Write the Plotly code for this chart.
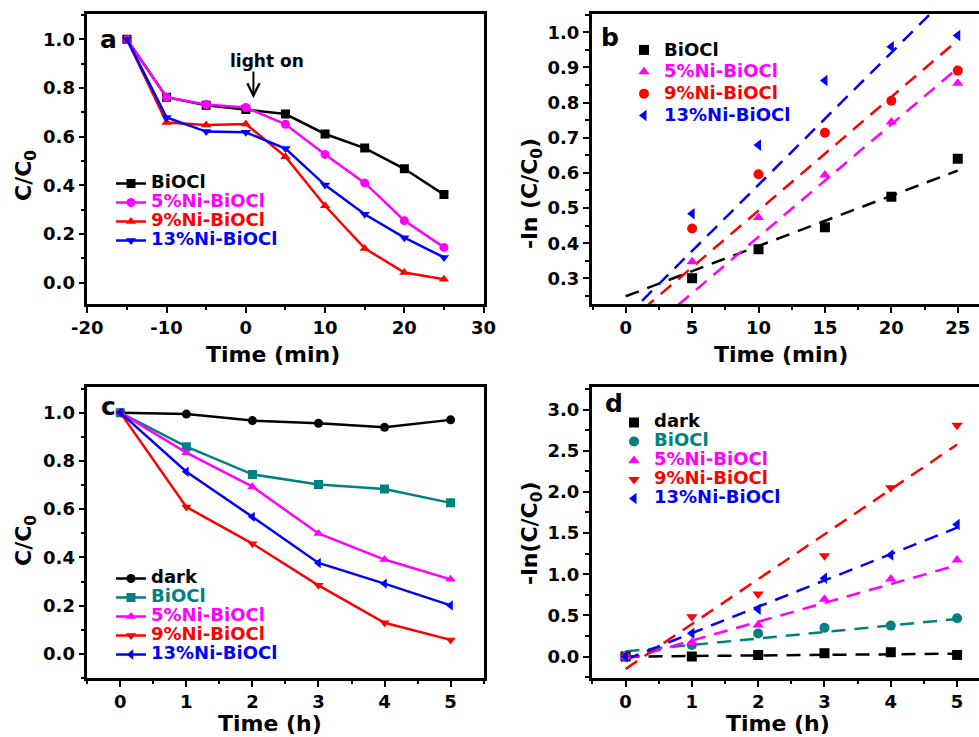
import plotly.graph_objects as go

W, H = 979, 737
FONT = "DejaVu Sans"

BLACK = "#000000"
MAGENTA = "#FF00FF"
RED = "#FF0000"
BLUE = "#0000FF"
TEAL = "#008080"

# ---- (a) C/C0 vs time, adsorption in the dark from -15 min, light on at 0 ----
t_a = [-15, -10, -5, 0, 5, 10, 15, 20, 25]
a_biocl = [1.0, 0.762, 0.729, 0.712, 0.693, 0.611, 0.553, 0.468, 0.362]
a_ni5 = [1.0, 0.762, 0.732, 0.720, 0.651, 0.527, 0.410, 0.255, 0.145]
a_ni9 = [1.0, 0.658, 0.648, 0.652, 0.518, 0.316, 0.141, 0.042, 0.014]
a_ni13 = [1.0, 0.679, 0.621, 0.618, 0.551, 0.401, 0.281, 0.185, 0.104]

# ---- (b) -ln(C/C0) vs time with linear fits ----
t_b = [5, 10, 15, 20, 25]
b_biocl = [0.300, 0.383, 0.445, 0.532, 0.640]
b_ni5 = [0.347, 0.473, 0.594, 0.745, 0.855]
b_ni9 = [0.442, 0.596, 0.714, 0.805, 0.891]
b_ni13 = [0.484, 0.679, 0.863, 0.959, 0.991]
b_fit_slope = [0.0143, 0.0320, 0.0323, 0.0376]
b_fit_icpt = [0.249, 0.098, 0.170, 0.190]
b_fit_span = [0, 25]

# ---- (c) C/C0 vs time (h) ----
t_c = [0, 1, 2, 3, 4, 5]
c_dark = [1.0, 0.994, 0.967, 0.956, 0.939, 0.970]
c_biocl = [1.0, 0.859, 0.744, 0.702, 0.683, 0.626]
c_ni5 = [1.0, 0.834, 0.693, 0.499, 0.391, 0.309]
c_ni9 = [1.0, 0.609, 0.457, 0.284, 0.129, 0.058]
c_ni13 = [1.0, 0.755, 0.568, 0.377, 0.291, 0.201]

# ---- (d) -ln(C/C0) vs time (h) with linear fits ----
t_d = [0, 1, 2, 3, 4, 5]
d_dark = [0.0, 0.0, 0.02, 0.041, 0.053, 0.02]
d_biocl = [0.0, 0.14, 0.28, 0.35, 0.376, 0.465]
d_ni5 = [0.0, 0.17, 0.384, 0.695, 0.942, 1.173]
d_ni9 = [0.0, 0.485, 0.76, 1.225, 2.05, 2.81]
d_ni13 = [0.0, 0.283, 0.574, 0.95, 1.233, 1.605]
d_fit_slope = [0.007, 0.079, 0.229, 0.545, 0.320]
d_fit_icpt = [0.0, 0.062, -0.035, -0.150, -0.035]
d_fit_span = [0, 5]

names_ab = ["BiOCl", "5%Ni-BiOCl", "9%Ni-BiOCl", "13%Ni-BiOCl"]
names_cd = ["dark", "BiOCl", "5%Ni-BiOCl", "9%Ni-BiOCl", "13%Ni-BiOCl"]

a_ticks = [-20, -10, 0, 10, 20, 30]
b_ticks = [0, 5, 10, 15, 20, 25]
cd_ticks = [0, 1, 2, 3, 4, 5]


def px(x):
    return x / W


def py(y):
    return 1 - y / H


def label(text, color, size=18):
    return f"<span style='color:{color};font-size:{size}px'>{text}</span>"


fig = go.Figure()

# panel a
a_series = [a_biocl, a_ni5, a_ni9, a_ni13]
a_cols = [BLACK, MAGENTA, RED, BLUE]
a_syms = ["square", "circle", "triangle-up", "triangle-down"]
for nm, ys, col, sym in zip(names_ab, a_series, a_cols, a_syms):
    fig.add_trace(go.Scatter(
        x=t_a, y=ys, mode="lines+markers", name=label(nm, col),
        line=dict(color=col, width=2.5),
        marker=dict(symbol=sym, size=9, color=col),
        xaxis="x", yaxis="y", legend="legend"))

# panel b
b_series = [b_biocl, b_ni5, b_ni9, b_ni13]
b_cols = [BLACK, MAGENTA, RED, BLUE]
b_syms = ["square", "triangle-up", "circle", "triangle-left"]
for i, (nm, ys, col, sym) in enumerate(zip(names_ab, b_series, b_cols, b_syms)):
    k, c0 = b_fit_slope[i], b_fit_icpt[i]
    fig.add_trace(go.Scatter(
        x=b_fit_span, y=[k * v + c0 for v in b_fit_span], mode="lines",
        line=dict(color=col, width=2.5, dash="14px,9px"),
        showlegend=False, hoverinfo="skip", xaxis="x2", yaxis="y2"))
for nm, ys, col, sym in zip(names_ab, b_series, b_cols, b_syms):
    fig.add_trace(go.Scatter(
        x=t_b, y=ys, mode="markers", name=label(nm, col),
        marker=dict(symbol=sym, size=10, color=col),
        xaxis="x2", yaxis="y2", legend="legend2"))

# panel c
c_series = [c_dark, c_biocl, c_ni5, c_ni9, c_ni13]
c_cols = [BLACK, TEAL, MAGENTA, RED, BLUE]
c_syms = ["circle", "square", "triangle-up", "triangle-down", "triangle-left"]
for nm, ys, col, sym in zip(names_cd, c_series, c_cols, c_syms):
    fig.add_trace(go.Scatter(
        x=t_c, y=ys, mode="lines+markers", name=label(nm, col),
        line=dict(color=col, width=2.5),
        marker=dict(symbol=sym, size=9, color=col),
        xaxis="x3", yaxis="y3", legend="legend3"))

# panel d
d_series = [d_dark, d_biocl, d_ni5, d_ni9, d_ni13]
d_cols = [BLACK, TEAL, MAGENTA, RED, BLUE]
d_syms = ["square", "circle", "triangle-up", "triangle-down", "triangle-left"]
for i, (nm, ys, col) in enumerate(zip(names_cd, d_series, d_cols)):
    k, c0 = d_fit_slope[i], d_fit_icpt[i]
    fig.add_trace(go.Scatter(
        x=d_fit_span, y=[k * v + c0 for v in d_fit_span], mode="lines",
        line=dict(color=col, width=2.5, dash="14px,9px"),
        showlegend=False, hoverinfo="skip", xaxis="x4", yaxis="y4"))
for nm, ys, col, sym in zip(names_cd, d_series, d_cols, d_syms):
    fig.add_trace(go.Scatter(
        x=t_d, y=ys, mode="markers", name=label(nm, col),
        marker=dict(symbol=sym, size=10, color=col),
        xaxis="x4", yaxis="y4", legend="legend4"))

tickfont = dict(family=FONT, size=18, color="black", weight="bold")


def axis(domain, rng, tickvals, ticktext, minor_dtick, minor_tick0, anchor, mirror=True):
    return dict(
        domain=domain, range=rng, anchor=anchor, automargin=False,
        tickmode="array", tickvals=tickvals, ticktext=ticktext,
        showline=True, linecolor="black", linewidth=2.5, mirror=mirror,
        ticks="outside", ticklen=6, tickwidth=2, tickcolor="black",
        tickfont=tickfont, showgrid=False, zeroline=False,
        minor=dict(ticks="outside", ticklen=3.5, tickwidth=2, tickcolor="black",
                   dtick=minor_dtick, tick0=minor_tick0, showgrid=False),
    )


top_dom = [py(304), py(14)]
bot_dom = [py(678), py(387.3)]
left_dom = [px(87.3), px(483.6)]
right_dom = [px(591.7), 1.0]

yt_a = [0, 0.2, 0.4, 0.6, 0.8, 1.0]
yt_b = [0.3, 0.4, 0.5, 0.6, 0.7, 0.8, 0.9, 1.0]
yt_d = [0, 0.5, 1.0, 1.5, 2.0, 2.5, 3.0]

legend_common = dict(bgcolor="rgba(0,0,0,0)", borderwidth=0,
                     font=dict(family=FONT, size=12, color="black", weight="bold"),
                     xanchor="left", yanchor="top", tracegroupgap=0)

fig.update_layout(
    width=W, height=H, autosize=False,
    margin=dict(l=0, r=0, t=0, b=0, autoexpand=False),
    paper_bgcolor="white", plot_bgcolor="white",
    font=dict(family=FONT, color="black"),
    xaxis=axis(left_dom, [-20, 30], a_ticks, [str(v) for v in a_ticks], 5, -20, "y"),
    yaxis=axis(top_dom, [-0.0875, 1.104], yt_a, [f"{v:.1f}" for v in yt_a], 0.1, 0, "x"),
    xaxis2=axis(right_dom, [-2.56, 26.6], b_ticks, [str(v) for v in b_ticks], 2.5, 0, "y2"),
    yaxis2=axis(top_dom, [0.227, 1.052], yt_b, [f"{v:.1f}" for v in yt_b], 0.05, 0, "x2", mirror=False),
    xaxis3=axis(left_dom, [-0.5, 5.5], cd_ticks, [str(v) for v in cd_ticks], 0.5, 0, "y3"),
    yaxis3=axis(bot_dom, [-0.1, 1.105], yt_a, [f"{v:.1f}" for v in yt_a], 0.1, 0, "x3"),
    xaxis4=axis(right_dom, [-0.51, 5.33], cd_ticks, [str(v) for v in cd_ticks], 0.5, 0, "y4"),
    yaxis4=axis(bot_dom, [-0.26, 3.27], yt_d, [f"{v:.1f}" for v in yt_d], 0.25, 0, "x4", mirror=False),
    legend=dict(legend_common, x=px(111), y=py(169)),
    legend2=dict(legend_common, x=px(624), y=py(34), font=dict(family=FONT, size=14.5, weight="bold")),
    legend3=dict(legend_common, x=px(111), y=py(564)),
    legend4=dict(legend_common, x=px(614), y=py(408), font=dict(family=FONT, size=11.5, weight="bold")),
)

title_font = dict(family=FONT, size=22, color="black", weight="bold")
letter_font = dict(family=FONT, size=25, color="black", weight="bold")


def text_at(x, y, text, font, angle=0, **kw):
    fig.add_annotation(x=px(x), y=py(y), xref="paper", yref="paper", text=text,
                       showarrow=False, font=font, textangle=angle,
                       xanchor="center", yanchor="middle", **kw)


# axis titles
text_at(273, 355, "Time (min)", title_font)
text_at(781, 355, "Time (min)", title_font)
text_at(270, 723, "Time (h)", title_font)
text_at(778, 723, "Time (h)", title_font)
text_at(25, 176, "C/C<sub>0</sub>", title_font, angle=-90)
text_at(531, 194, "-ln (C/C<sub>0</sub>)", title_font, angle=-90)
text_at(25, 541, "C/C<sub>0</sub>", title_font, angle=-90)
text_at(531, 533, "-ln(C/C<sub>0</sub>)", title_font, angle=-90)

# panel letters
text_at(108, 40, "a", letter_font)
text_at(610, 38, "b", letter_font)
text_at(108, 406, "c", letter_font)
text_at(614, 404, "d", letter_font)

# light-on marker in panel a
text_at(267, 61, "light on", dict(family=FONT, size=17, color="black", weight="bold"))
fig.add_annotation(x=0.96, y=0.758, ax=0.96, ay=0.874, xref="x", yref="y",
                   axref="x", ayref="y", text="", showarrow=True,
                   arrowhead=5, arrowsize=1.2, arrowwidth=2, arrowcolor="black")

fig.write_html("out.html")
